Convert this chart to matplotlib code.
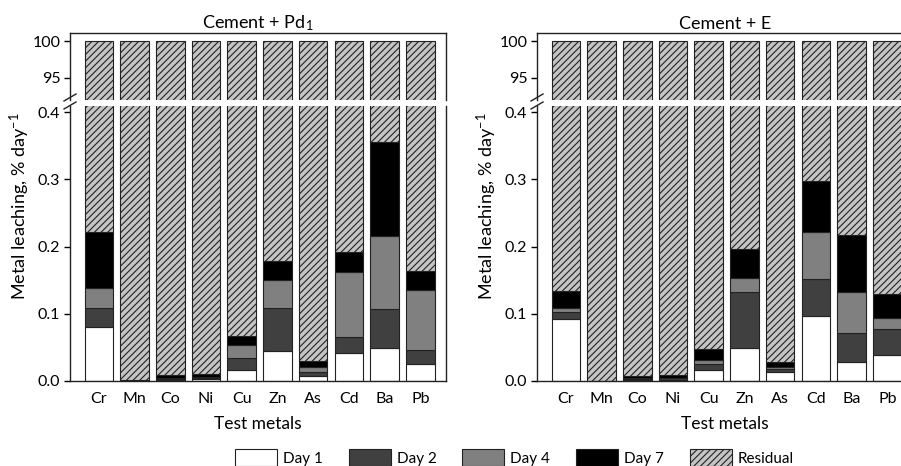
import matplotlib
matplotlib.use("Agg")
import matplotlib.pyplot as plt
import numpy as np
from matplotlib.patches import Patch
from matplotlib.lines import Line2D

plt.rcParams['font.family'] = ['Lato', 'DejaVu Sans']
plt.rcParams['mathtext.fontset'] = 'custom'
plt.rcParams['mathtext.rm'] = 'Lato'
plt.rcParams['mathtext.it'] = 'Lato:italic'
plt.rcParams['hatch.linewidth'] = 0.8

metals = ["Cr", "Mn", "Co", "Ni", "Cu", "Zn", "As", "Cd", "Ba", "Pb"]
series_names = ["Day 1", "Day 2", "Day 4", "Day 7"]

# Cement + Pd1 (increments, % day^-1)
pd_day1 = [0.080, 0.0002, 0.001, 0.003, 0.017, 0.044, 0.008, 0.041, 0.049, 0.025]
pd_day2 = [0.029, 0.0002, 0.002, 0.001, 0.017, 0.065, 0.005, 0.024, 0.058, 0.021]
pd_day4 = [0.029, 0.0003, 0.001, 0.002, 0.019, 0.041, 0.008, 0.097, 0.109, 0.089]
pd_day7 = [0.083, 0.0003, 0.005, 0.004, 0.014, 0.028, 0.009, 0.030, 0.140, 0.029]

# Cement + E
e_day1 = [0.092, 0.0001, 0.001, 0.001, 0.016, 0.049, 0.014, 0.096, 0.029, 0.038]
e_day2 = [0.010, 0.0001, 0.002, 0.003, 0.010, 0.083, 0.004, 0.056, 0.042, 0.040]
e_day4 = [0.007, 0.0001, 0.001, 0.001, 0.005, 0.021, 0.003, 0.070, 0.061, 0.016]
e_day7 = [0.025, 0.0001, 0.003, 0.004, 0.017, 0.043, 0.008, 0.075, 0.085, 0.035]

total = 100.0
titles = ["Cement + Pd$_1$", "Cement + E"]

colors = ["white", "#404040", "#808080", "black"]
resid_face = "#c4c4c4"
edge = "#222222"
HATCH = "/////"

W, H = 901, 466
fig = plt.figure(figsize=(W / 100, H / 100), dpi=100)

def fx(px):
    return px / W

def fy(py):
    return 1 - py / H

panels = [(pd_day1, pd_day2, pd_day4, pd_day7), (e_day1, e_day2, e_day4, e_day7)]
lefts = [70, 537]
axw = 376
x = np.arange(len(metals))
bw = 0.8

for pi, (data, lpx) in enumerate(zip(panels, lefts)):
    ax_lo = fig.add_axes([fx(lpx), fy(381), fx(axw), (381 - 106) / H])
    ax_hi = fig.add_axes([fx(lpx), fy(100), fx(axw), (100 - 33) / H])
    for ax in (ax_lo, ax_hi):
        bottom = np.zeros(len(metals))
        for vals, c in zip(data, colors):
            v = np.array(vals)
            ax.bar(x, v, bw, bottom=bottom, color=c, edgecolor=edge, linewidth=0.8)
            bottom = bottom + v
        ax.bar(x, total - bottom, bw, bottom=bottom, color=resid_face,
               edgecolor=edge, linewidth=0.8, hatch=HATCH)
        ax.set_xlim(-0.81, 9.72)
        for s in ax.spines.values():
            s.set_linewidth(1.0)
            s.set_color("#222222")
        ax.tick_params(axis='y', direction='out', length=4, width=1, pad=3, labelsize=11.5)
    ax_lo.set_ylim(0, 0.409)
    ax_lo.set_yticks([0.0, 0.1, 0.2, 0.3, 0.4])
    ax_lo.set_yticklabels(["0.0", "0.1", "0.2", "0.3", "0.4"])
    ax_lo.spines['top'].set_visible(False)
    ax_lo.set_xticks(x)
    ax_lo.set_xticklabels(metals, fontsize=11.5)
    ax_lo.tick_params(axis='x', length=0, pad=8)
    ax_lo.set_xlabel("Test metals", fontsize=12.5, labelpad=7)

    ax_hi.set_ylim(92.0, 101.1)
    ax_hi.set_yticks([95, 100])
    ax_hi.spines['bottom'].set_visible(False)
    ax_hi.set_xticks([])
    ax_hi.set_title(titles[pi], fontsize=13, pad=3)

    # y label
    fig.text(fx(lpx - 50), fy(206), "Metal leaching, % day$^{-1}$", rotation=90,
             ha='center', va='center', fontsize=13)

    # break marks
    for (y1, y2) in [(101, 94), (109, 102)]:
        fig.add_artist(Line2D([fx(lpx - 6), fx(lpx + 6)], [fy(y1), fy(y2)],
                              color="#222222", lw=1.0))

handles = [Patch(facecolor=c, edgecolor=edge, linewidth=0.8) for c in colors]
handles.append(Patch(facecolor=resid_face, edgecolor=edge, linewidth=0.8, hatch=HATCH))
labels = series_names + ["Residual"]
fig.legend(handles, labels, loc='lower left', bbox_to_anchor=(fx(235), fy(466)),
           ncol=5, frameon=False, fontsize=11, handlelength=2.75, handleheight=1.3,
           handletextpad=0.4, columnspacing=1.68, borderpad=0, borderaxespad=0)

fig.savefig("out.png", dpi=100)
